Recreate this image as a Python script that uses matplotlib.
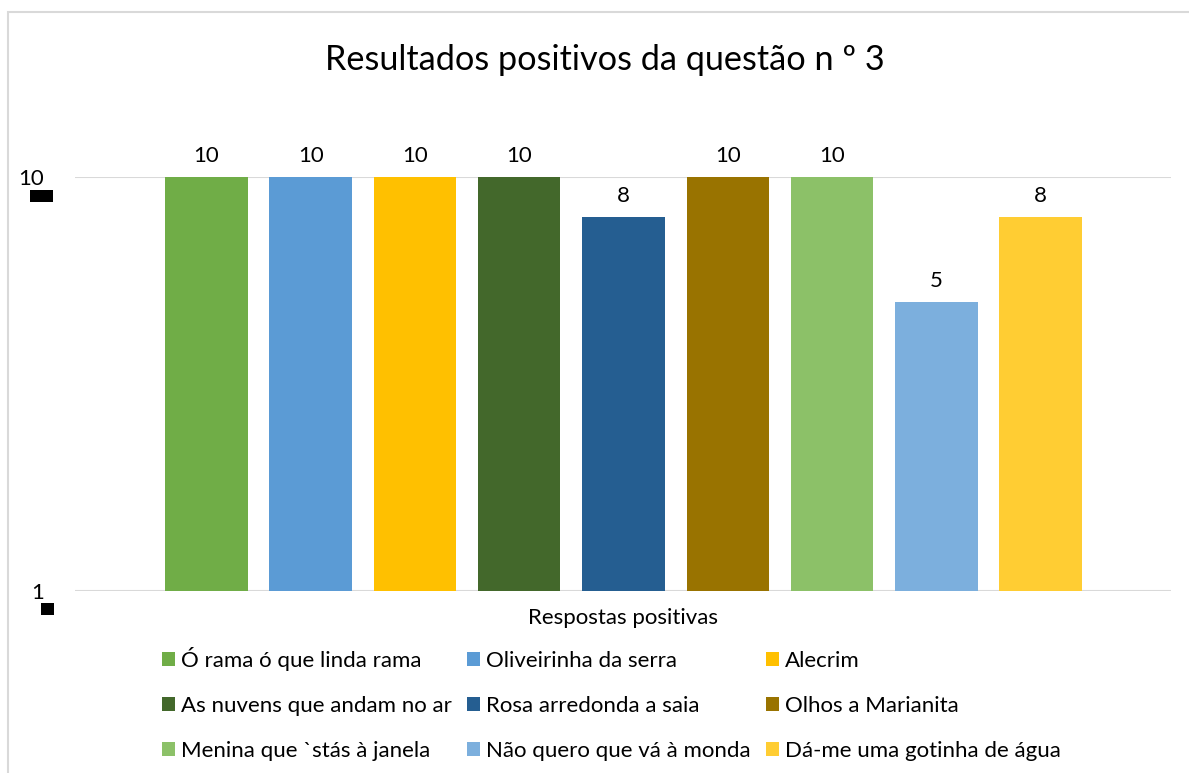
import matplotlib
matplotlib.use("Agg")
import matplotlib.pyplot as plt
from matplotlib.patches import Rectangle, Patch

plt.rcParams['font.family'] = ['Lato', 'DejaVu Sans']

title = "Resultados positivos da questão n º 3"
x_label = "Respostas positivas"
categories = ["Ó rama ó que linda rama", "Oliveirinha da serra", "Alecrim",
              "As nuvens que andam no ar", "Rosa arredonda a saia", "Olhos a Marianita",
              "Menina que `stás à janela", "Não quero que vá à monda", "Dá-me uma gotinha de água"]
values = [10, 10, 10, 10, 8, 10, 10, 5, 8]
colors = ["#70AD47", "#5B9BD5", "#FFC000", "#43682B", "#255E91", "#997300",
          "#8CC168", "#7CAFDD", "#FFCD33"]
y_ticks = [1, 10]
y_tick_labels = ["1", "10"]

W, H = 1189, 773
fig = plt.figure(figsize=(W / 100, H / 100), dpi=100)
fig.patch.set_facecolor("white")

# chart border (partially cropped)
fig.add_artist(Rectangle((8 / W, -0.1), 1.2, (H - 12) / H + 0.1, transform=fig.transFigure,
                         fill=False, edgecolor="#D9D9D9", linewidth=1.5))

ax = fig.add_axes([75 / W, (H - 591) / H, 1096 / W, 414 / H])
ax.set_yscale("log")
x = list(range(len(values)))
bars = ax.bar(x, values, width=0.79, color=colors, zorder=3)
ax.bar_label(bars, labels=[str(v) for v in values], padding=8, fontsize=16, color="#000000")
ax.set_ylim(1, 10)
ax.set_xlim(-1.26, len(values) - 1 + 1.25)
ax.set_xticks([])
ax.set_yticks(y_ticks)
ax.yaxis.set_minor_locator(matplotlib.ticker.NullLocator())
ax.set_yticklabels(y_tick_labels, fontsize=16)
ax.tick_params(axis="y", length=0, pad=22)
ax.grid(axis="y", color="#D9D9D9", linewidth=1.5, zorder=0)
for s in ax.spines.values():
    s.set_visible(False)
ax.set_xlabel(x_label, fontsize=16, labelpad=12, color="#000000")

# black artefact boxes under tick labels
fig.add_artist(Rectangle((30 / W, (H - 202) / H), 23 / W, 12 / H, transform=fig.transFigure,
                         facecolor="black", edgecolor="none"))
fig.add_artist(Rectangle((41 / W, (H - 615) / H), 13 / W, 12 / H, transform=fig.transFigure,
                         facecolor="black", edgecolor="none"))

fig.text(605 / W, 1 - 60 / H, title, ha="center", va="center", fontsize=24.7, color="#000000")

handles = [Patch(facecolor=c, edgecolor="none") for c in colors]
order = [0, 3, 6, 1, 4, 7, 2, 5, 8]
fig.legend([handles[i] for i in order], [categories[i] for i in order], ncol=3,
           loc="upper left", bbox_to_anchor=(162 / W, 1 - 647 / H), frameon=False,
           fontsize=16, handlelength=0.58, handleheight=0.58, handletextpad=0.27,
           columnspacing=0.7, labelspacing=1.13, borderaxespad=0, borderpad=0)

fig.savefig("out.png", dpi=100)
